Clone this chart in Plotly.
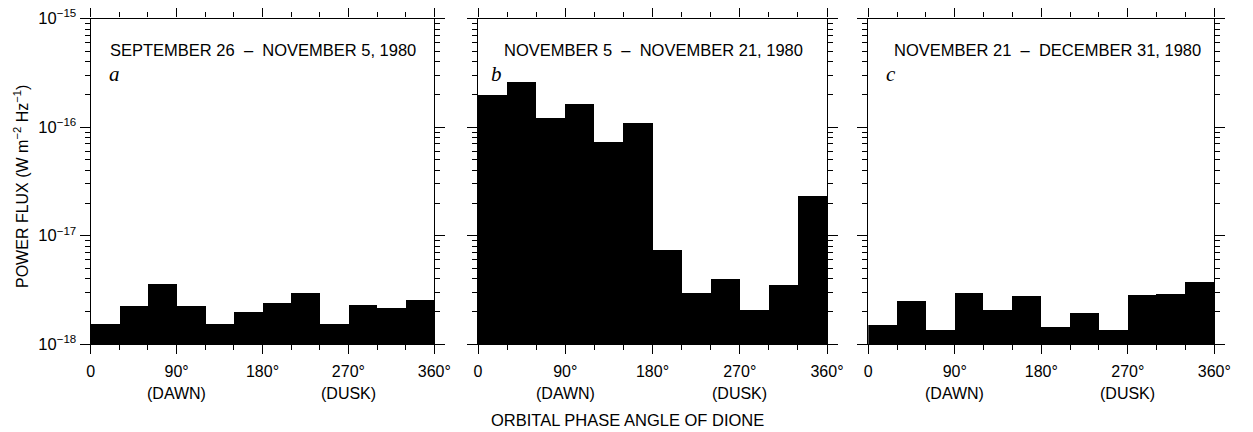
import plotly.graph_objects as go

# ---- data ----
bin_left = [0, 30, 60, 90, 120, 150, 180, 210, 240, 270, 300, 330]
bin_width = 30
flux_a = [1.54e-18, 2.3e-18, 3.6e-18, 2.3e-18, 1.54e-18, 2.02e-18,
          2.45e-18, 3.0e-18, 1.57e-18, 2.33e-18, 2.17e-18, 2.58e-18]
flux_b = [2.01e-16, 2.61e-16, 1.22e-16, 1.64e-16, 7.3e-17, 1.10e-16,
          7.5e-18, 3.0e-18, 4.0e-18, 2.07e-18, 3.56e-18, 2.33e-17]
flux_c = [1.52e-18, 2.54e-18, 1.38e-18, 3.01e-18, 2.11e-18, 2.8e-18,
          1.47e-18, 1.97e-18, 1.36e-18, 2.9e-18, 2.95e-18, 3.8e-18]
panel_titles = ["SEPTEMBER 26  –  NOVEMBER 5, 1980",
                "NOVEMBER 5  –  NOVEMBER 21, 1980",
                "NOVEMBER 21  –  DECEMBER 31, 1980"]
panel_letters = ["a", "b", "c"]
x_tickvals = [0, 90, 180, 270, 360]
x_ticktext = ["0", "90°", "180°", "270°", "360°"]
y_tickvals = [1e-18, 1e-17, 1e-16, 1e-15]
y_ticktext = ["10<sup>−18</sup>", "10<sup>−17</sup>", "10<sup>−16</sup>", "10<sup>−15</sup>"]
y_minor = [m * 10.0 ** e for e in (-18, -17, -16) for m in range(2, 10)]
x_minor = list(range(0, 361, 30))

W, H = 1253, 432
FONT = "Liberation Sans"

def px_x(p):
    return p / W

def px_y(p):
    return 1 - p / H

domains_x = [(90.7, 434.3), (478.0, 827.0), (868.3, 1214.3)]
y_top, y_bot = 18.5, 344.3

fig = go.Figure()
series = [flux_a, flux_b, flux_c]
for i, vals in enumerate(series):
    xs = [b + bin_width / 2 for b in bin_left]
    ax = "" if i == 0 else str(i + 1)
    fig.add_trace(go.Bar(
        x=xs, y=vals, width=[bin_width] * len(xs),
        marker=dict(color="black", line=dict(width=0)),
        xaxis="x" + ax, yaxis="y" + ax, showlegend=False,
        hoverinfo="skip",
    ))
    xa = dict(
        domain=[px_x(domains_x[i][0]), px_x(domains_x[i][1])],
        range=[0, 360], anchor="y" + ax, automargin=False,
        tickmode="array", tickvals=x_tickvals, ticktext=x_ticktext,
        ticks="outside", ticklen=9, tickwidth=1, tickcolor="black",
        minor=dict(tickmode="array", tickvals=x_minor, ticks="outside",
                   ticklen=5, tickwidth=1, tickcolor="black"),
        showline=True, linecolor="black", linewidth=1.2, mirror="allticks",
        showgrid=False, zeroline=False,
        tickfont=dict(family=FONT, size=16, color="black"),
        ticklabelstandoff=3,
    )
    ya = dict(
        domain=[px_y(y_bot), px_y(y_top)],
        type="log", range=[-18, -15], anchor="x" + ax, automargin=False,
        tickmode="array", tickvals=y_tickvals, ticktext=y_ticktext,
        showticklabels=(i == 0),
        ticks="outside", ticklen=10, tickwidth=1, tickcolor="black",
        minor=dict(tickmode="array", tickvals=y_minor, ticks="outside",
                   ticklen=5, tickwidth=1, tickcolor="black"),
        showline=True, linecolor="black", linewidth=1.2, mirror="allticks",
        showgrid=False, zeroline=False,
        tickfont=dict(family=FONT, size=16.5, color="black"),
    )
    fig.layout["xaxis" + ax] = xa
    fig.layout["yaxis" + ax] = ya

annotations = []
title_x = [108, 502, 892]
letter_x = [107, 489, 884]
for i in range(3):
    ax = "" if i == 0 else str(i + 1)
    annotations.append(dict(
        text=panel_titles[i], xref="paper", yref="paper",
        x=px_x(title_x[i]), y=px_y(50), xanchor="left", yanchor="middle",
        showarrow=False, font=dict(family=FONT, size=16.5, color="black")))
    annotations.append(dict(
        text="<i>" + panel_letters[i] + "</i>", xref="paper", yref="paper",
        x=px_x(letter_x[i]), y=px_y(74), xanchor="left", yanchor="middle",
        showarrow=False, font=dict(family="Liberation Serif", size=21, color="black")))
    for xv, lab in ((90, "(DAWN)"), (270, "(DUSK)")):
        annotations.append(dict(
            text=lab, xref="x" + ax, yref="paper", x=xv, y=px_y(393),
            xanchor="center", yanchor="middle", showarrow=False,
            font=dict(family=FONT, size=16, color="black")))

annotations.append(dict(
    text="ORBITAL PHASE ANGLE OF DIONE", xref="paper", yref="paper",
    x=px_x(627), y=px_y(420), xanchor="center", yanchor="middle",
    showarrow=False, font=dict(family=FONT, size=16.5, color="black")))
annotations.append(dict(
    text="POWER FLUX (W m<sup>−2</sup> Hz<sup>−1</sup>)", xref="paper", yref="paper",
    x=px_x(21), y=px_y(187), xanchor="center", yanchor="middle", textangle=-90,
    showarrow=False, font=dict(family=FONT, size=16, color="black")))

fig.update_layout(
    width=W, height=H, margin=dict(l=0, r=0, t=0, b=0, autoexpand=False),
    paper_bgcolor="white", plot_bgcolor="white",
    bargap=0, annotations=annotations, hovermode=False,
)
fig.write_html("out.html", config={"displayModeBar": False},
               post_script="document.body.style.margin='0';document.body.style.overflow='hidden';")
